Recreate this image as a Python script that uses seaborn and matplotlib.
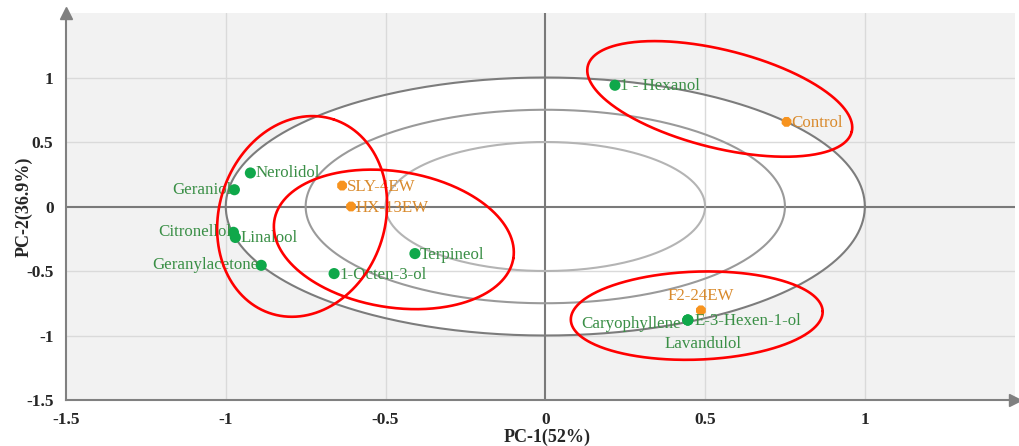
import numpy as np
import pandas as pd
import matplotlib
matplotlib.use("Agg")
import matplotlib.pyplot as plt
import seaborn as sns

# loadings
names = ["1 - Hexanol", "Control", "Nerolidol", "Geraniol", "SLY-4EW", "HX-13EW",
         "Citronellol", "Linalool", "Geranylacetone", "1-Octen-3-ol", "Terpineol",
         "F2-24EW", "Caryophyllene", "E-3-Hexen-1-ol", "Lavandulol"]
pc1 = [0.218, 0.755, -0.923, -0.973, -0.636, -0.608,
       -0.976, -0.970, -0.889, -0.661, -0.408,
       0.487, 0.446, 0.446, 0.446]
pc2 = [0.940, 0.656, 0.260, 0.130, 0.162, 0.000,
       -0.200, -0.240, -0.456, -0.520, -0.365,
       -0.805, -0.880, -0.880, -0.880]
kind = ["compound", "sample", "compound", "compound", "sample", "sample",
        "compound", "compound", "compound", "compound", "compound",
        "sample", "compound", "compound", "compound"]

# correlation circles (radius in PC units)
circle_r = [1.0, 0.75, 0.5]

# red group ellipses: centre (PC units), semi-axes (px), tilt (deg)
group_cx = [0.546, -0.761, -0.474, 0.474]
group_cy = [0.834, -0.077, -0.255, -0.846]
group_a = [136, 102, 121, 126]
group_b = [49, 83, 68, 44]
group_ang = [-14, 72, -9, 2]

x_ticks = [-1.5, -1, -0.5, 0, 0.5, 1]
y_ticks = [-1.5, -1, -0.5, 0, 0.5, 1]
tick_labels = ["-1.5", "-1", "-0.5", "0", "0.5", "1"]

df = pd.DataFrame({"name": names, "PC1": pc1, "PC2": pc2, "kind": kind})

# label placement: (dx px, dy px, ha)
label_pos = {
    "1 - Hexanol": (5, -1, "left"), "Control": (5, -1, "left"),
    "Nerolidol": (5, 0, "left"), "Geraniol": (-3, 0, "right"),
    "SLY-4EW": (5, -1, "left"), "HX-13EW": (5, -1, "left"),
    "Citronellol": (-2, 0, "right"), "Linalool": (5, -1, "left"),
    "Geranylacetone": (-3, 0, "right"), "1-Octen-3-ol": (5, -1, "left"),
    "Terpineol": (5, -1, "left"), "F2-24EW": (0, 14, "center"),
    "Caryophyllene": (-7, -4, "right"), "E-3-Hexen-1-ol": (7, -1, "left"),
    "Lavandulol": (15, -24, "center"),
}

sns.set_style("white")
plt.rcParams["font.family"] = ["Liberation Serif", "DejaVu Serif"]

fig = plt.figure(figsize=(10.19, 4.46), dpi=100)
ax = fig.add_axes([66 / 1019, 46 / 446, 949 / 1019, 387 / 446])
ax.set_xlim(-1.5, 1.47)
ax.set_ylim(-1.5, 1.5)
ax.set_facecolor("#f2f2f2")

t = np.linspace(0, 2 * np.pi, 400)
ax.fill(circle_r[0] * np.cos(t), circle_r[0] * np.sin(t), color="white", zorder=0.5, lw=0)

for v in [-1, -0.5, 0.5, 1]:
    ax.axvline(v, color="#dadada", lw=1, zorder=1)
    ax.axhline(v, color="#dadada", lw=1, zorder=1)
ax.axhline(0, color="#7a7a7a", lw=1.5, zorder=1.5)
ax.axvline(0, color="#7a7a7a", lw=1.5, zorder=1.5)

for r, c in zip(circle_r, ["#7c7c7c", "#9a9a9a", "#b4b4b4"]):
    ax.plot(r * np.cos(t), r * np.sin(t), color=c, lw=1.5, zorder=2)

sns.scatterplot(data=df, x="PC1", y="PC2", hue="kind", style="kind",
                palette={"compound": "#0fa84a", "sample": "#f7931e"},
                markers={"compound": "o", "sample": "8"},
                size="kind", sizes={"compound": 64, "sample": 58},
                edgecolor="none", legend=False, ax=ax, zorder=4)

for _, row in df.iterrows():
    dx, dy, ha = label_pos[row["name"]]
    col = "#3a8f46" if row["kind"] == "compound" else "#d98a2c"
    ax.annotate(row["name"], (row["PC1"], row["PC2"]), xytext=(dx, dy),
                textcoords="offset pixels", ha=ha, va="center",
                fontsize=12.2, color=col, zorder=5)

# group ellipses drawn in pixel space so the tilt matches the picture
fig.canvas.draw()
inv = ax.transData.inverted()
for cx, cy, a, b, ang in zip(group_cx, group_cy, group_a, group_b, group_ang):
    px, py = ax.transData.transform((cx, cy))
    th = np.deg2rad(ang)
    ex = px + a * np.cos(t) * np.cos(th) - b * np.sin(t) * np.sin(th)
    ey = py + a * np.cos(t) * np.sin(th) + b * np.sin(t) * np.cos(th)
    pts = inv.transform(np.column_stack([ex, ey]))
    ax.plot(pts[:, 0], pts[:, 1], color="#ff0000", lw=1.9, zorder=6)

for s in ["top", "right"]:
    ax.spines[s].set_visible(False)
for s in ["left", "bottom"]:
    ax.spines[s].set_color("#808080")
    ax.spines[s].set_linewidth(1.5)
ax.plot(0, 1, marker="^", color="#808080", ms=8, transform=ax.transAxes, clip_on=False)
ax.plot(1, 0, marker=">", color="#808080", ms=8, transform=ax.transAxes, clip_on=False)

ax.set_xticks(x_ticks)
ax.set_xticklabels(tick_labels)
ax.set_yticks(y_ticks)
ax.set_yticklabels(tick_labels)
ax.set_xticks(np.arange(-1.25, 1.3, 0.5), minor=True)
ax.set_yticks(np.arange(-1.25, 1.3, 0.5), minor=True)
ax.tick_params(which="both", direction="out", length=3, color="#808080", width=1)
ax.tick_params(axis="both", which="major", labelsize=12.5, pad=6)
for lab in ax.get_xticklabels() + ax.get_yticklabels():
    lab.set_fontweight("bold")

ax.set_xlabel("PC-1(52%)", fontsize=13, fontweight="bold")
ax.set_ylabel("PC-2(36.9%)", fontsize=13, fontweight="bold")
ax.xaxis.set_label_coords(0.507, -0.075)
ax.yaxis.set_label_coords(-0.035, 0.5)

fig.savefig("out.png", dpi=100)
